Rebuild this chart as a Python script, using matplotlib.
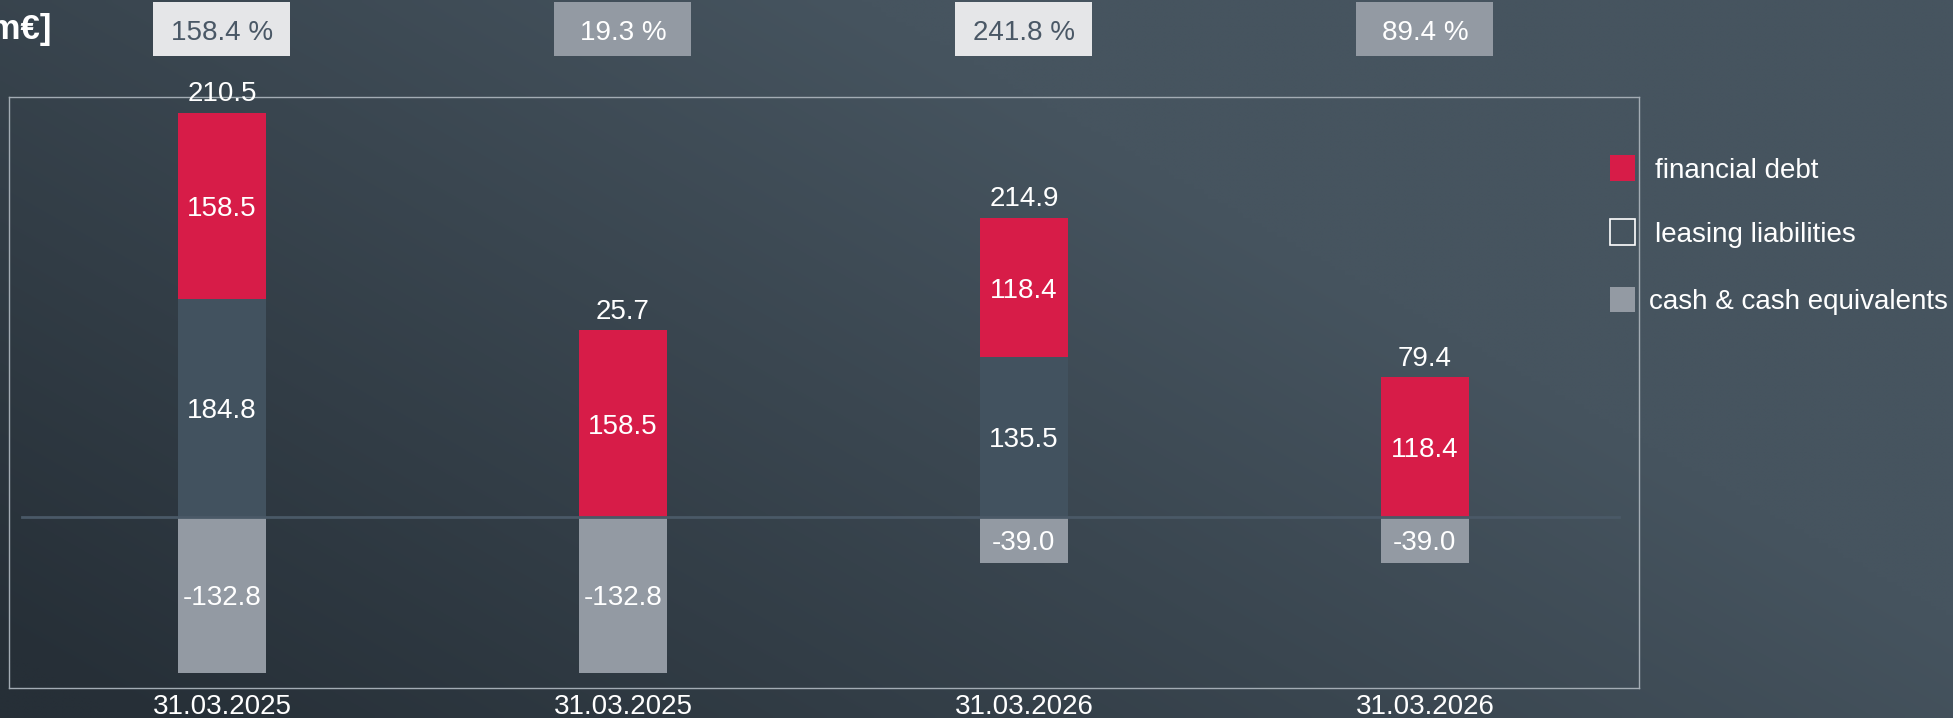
import numpy as np
import matplotlib.pyplot as plt
from matplotlib.patches import Rectangle
from matplotlib.transforms import blended_transform_factory

plt.rcParams['font.family'] = ['Liberation Sans', 'DejaVu Sans']

# Data
dates = ['31.03.2025', '31.03.2025', '31.03.2026', '31.03.2026']
financial_debt = [158.5, 158.5, 118.4, 118.4]
leasing_liabilities = [184.8, 0.0, 135.5, 0.0]
cash = [-132.8, -132.8, -39.0, -39.0]
net_debt = [210.5, 25.7, 214.9, 79.4]
gearing = [158.4, 19.3, 241.8, 89.4]
legend_labels = ['financial debt', 'leasing liabilities', 'cash & cash equivalents']

RED = '#d71c48'
LEASE = '#42525f'
CASH = '#939aa3'
LIGHT_BOX = '#e5e6e8'
DARK_TEXT = '#4a5866'

W, H = 1953, 718
fig = plt.figure(figsize=(W / 100, H / 100), dpi=100)

# Background gradient (dark bottom-left -> lighter top-right)
bg = fig.add_axes([0, 0, 1, 1])
px_x, px_up = np.meshgrid(np.linspace(0, W, 400), np.linspace(H, 0, 150))
t = np.clip(0.0005 * px_x + 0.00088 * px_up - 0.062, 0, 1)
c0 = np.array([0x26, 0x2f, 0x37]) / 255
c1 = np.array([0x46, 0x54, 0x5f]) / 255
img = c0 + (c1 - c0) * t[..., None]
bg.imshow(img, aspect='auto', extent=[0, 1, 0, 1], interpolation='bilinear')
bg.set_axis_off()


def fx(px):
    return px / W


def fy(py):
    return 1 - py / H


# Main axes = the framed plot area
left, right, top, bottom = 9, 1639, 97, 688
ax = fig.add_axes([fx(left), fy(bottom), fx(right - left), (bottom - top) / H])
ax.set_facecolor('none')

x = np.arange(len(dates))
width = 0.22
ax.bar(x, leasing_liabilities, width, color=LEASE, zorder=2)
ax.bar(x, financial_debt, width, bottom=leasing_liabilities, color=RED, zorder=2)
ax.bar(x, cash, width, color=CASH, zorder=2)
ax.axhline(0, xmin=0.008, xmax=0.988, color='#4a5967', lw=2, zorder=3)

ax.set_xlim(-0.531, 3.534)
ax.set_ylim(-145.2, 356.5)

trans_fig_y = blended_transform_factory(ax.transData, fig.transFigure)
fs = 20
for i in range(len(dates)):
    if leasing_liabilities[i] > 0:
        ax.text(x[i], leasing_liabilities[i] / 2, f'{leasing_liabilities[i]:.1f}',
                ha='center', va='center_baseline', color='white', fontsize=fs, zorder=4)
    ax.text(x[i], leasing_liabilities[i] + financial_debt[i] / 2, f'{financial_debt[i]:.1f}',
            ha='center', va='center_baseline', color='white', fontsize=fs, zorder=4)
    ax.text(x[i], cash[i] / 2, f'{cash[i]:.1f}',
            ha='center', va='center_baseline', color='white', fontsize=fs, zorder=4)
    total = leasing_liabilities[i] + financial_debt[i]
    ax.annotate(f'{net_debt[i]:.1f}', (x[i], total), xytext=(0, 4),
                textcoords='offset points', ha='center', va='bottom',
                color='white', fontsize=fs, zorder=4, annotation_clip=False)
    fig.text(x[i], fy(704), dates[i], transform=trans_fig_y,
             ha='center', va='center_baseline', color='white', fontsize=fs)

ax.set_xticks([])
ax.set_yticks([])
for s in ax.spines.values():
    s.set_color('#a3acb4')
    s.set_linewidth(1)

# Gearing boxes on top
half = 0.171
for i, g in enumerate(gearing):
    light = (i % 2 == 0)
    fig.patches.append(Rectangle((x[i] - half, fy(56)), 2 * half, (56 - 2) / H,
                                 transform=trans_fig_y, facecolor=LIGHT_BOX if light else CASH,
                                 edgecolor='none'))
    fig.text(x[i], fy(30), f'{g:.1f} %', transform=trans_fig_y, ha='center',
             va='center_baseline', fontsize=20, color=DARK_TEXT if light else 'white')

# Unit label (cut off at the left edge, as in the original slide)
fig.text(fx(51), fy(30), '[m€]', ha='right', va='center', fontsize=25,
         fontweight='bold', color='white')

# Legend
leg_y = [168, 232, 299]
leg_tx = [1655, 1655, 1649]
for lab, cy, tx, (fc, ec) in zip(legend_labels, leg_y, leg_tx,
                                 [(RED, 'none'), ('none', 'white'), (CASH, 'none')]):
    fig.patches.append(Rectangle((fx(1610), fy(cy + 12.5)), 25 / W, 25 / H,
                                 transform=fig.transFigure, facecolor=fc,
                                 edgecolor=ec, lw=1.2))
    fig.text(fx(tx), fy(cy), lab, ha='left', va='center_baseline', fontsize=20, color='white')

fig.savefig('out.png', dpi=100)
